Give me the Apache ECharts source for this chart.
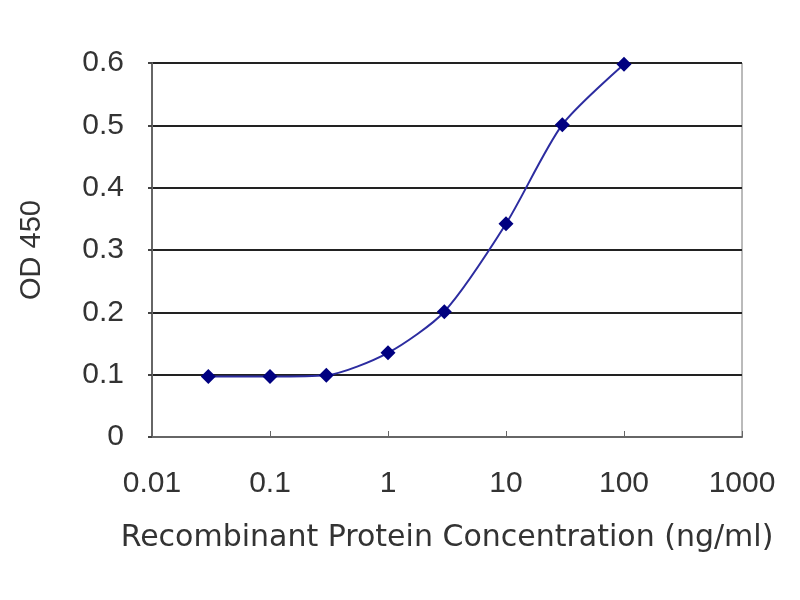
<!DOCTYPE html>
<html>
<head>
<meta charset="utf-8">
<script src="https://cdn.jsdelivr.net/npm/echarts@6/dist/echarts.min.js"></script>
<style>
  html, body { margin: 0; padding: 0; background: #fff; }
  #chart { width: 800px; height: 600px; }
</style>
</head>
<body>
<div id="chart"></div>
<script>
(function (echarts) {
  "use strict";

  // concentrations (ng/ml) and OD 450 readings
  var concentrations = [0.03, 0.1, 0.3, 1, 3, 10, 30, 100];
  var od450 = [0.097, 0.097, 0.099, 0.135, 0.201, 0.342, 0.501, 0.598];

  var xTicks = [0.01, 0.1, 1, 10, 100, 1000];
  var yTicks = [0, 0.1, 0.2, 0.3, 0.4, 0.5, 0.6];

  var FONT = '"Liberation Sans", Arial, sans-serif';

  var points = concentrations.map(function (c, i) { return [c, od450[i]]; });

  var chart = echarts.init(document.getElementById('chart'), null, { renderer: 'canvas' });

  chart.setOption({
    animation: false,
    backgroundColor: '#fff',
    grid: {
      left: 152, right: 58, top: 63, bottom: 163,
      show: true, borderColor: '#777', borderWidth: 1
    },
    xAxis: {
      type: 'log',
      logBase: 10,
      min: xTicks[0],
      max: xTicks[xTicks.length - 1],
      name: 'Recombinant Protein Concentration (ng/ml)',
      nameLocation: 'middle',
      nameGap: 86,
      nameTextStyle: { fontFamily: '"DejaVu Sans", sans-serif', fontSize: 30, color: '#333' },
      axisLine: { show: true, lineStyle: { color: '#666', width: 2 } },
      axisTick: { show: true, inside: true, length: 6, lineStyle: { color: '#666' } },
      axisLabel: {
        fontFamily: FONT, fontSize: 30, color: '#333', margin: 32,
        formatter: function (v) { return String(v); }
      },
      splitLine: { show: false }
    },
    yAxis: {
      type: 'value',
      min: yTicks[0],
      max: yTicks[yTicks.length - 1],
      interval: 0.1,
      name: 'OD 450',
      nameLocation: 'middle',
      nameGap: 106,
      nameTextStyle: { fontFamily: FONT, fontSize: 29, color: '#333' },
      axisLine: { show: true, lineStyle: { color: '#666', width: 2 } },
      axisTick: { show: true, length: 4, lineStyle: { color: '#444', width: 2 } },
      axisLabel: {
        fontFamily: FONT, fontSize: 30, color: '#333', margin: 28,
        formatter: function (v) { return String(Math.round(v * 10) / 10); }
      },
      splitLine: { show: true, lineStyle: { color: '#222', width: 2 } }
    },
    series: [{
      type: 'line',
      data: points,
      smooth: 0.25,
      symbol: 'diamond',
      symbolSize: 15,
      itemStyle: { color: '#000080' },
      lineStyle: { color: '#2c2ca0', width: 2 }
    }]
  });
})(echarts);
</script>
</body>
</html>
